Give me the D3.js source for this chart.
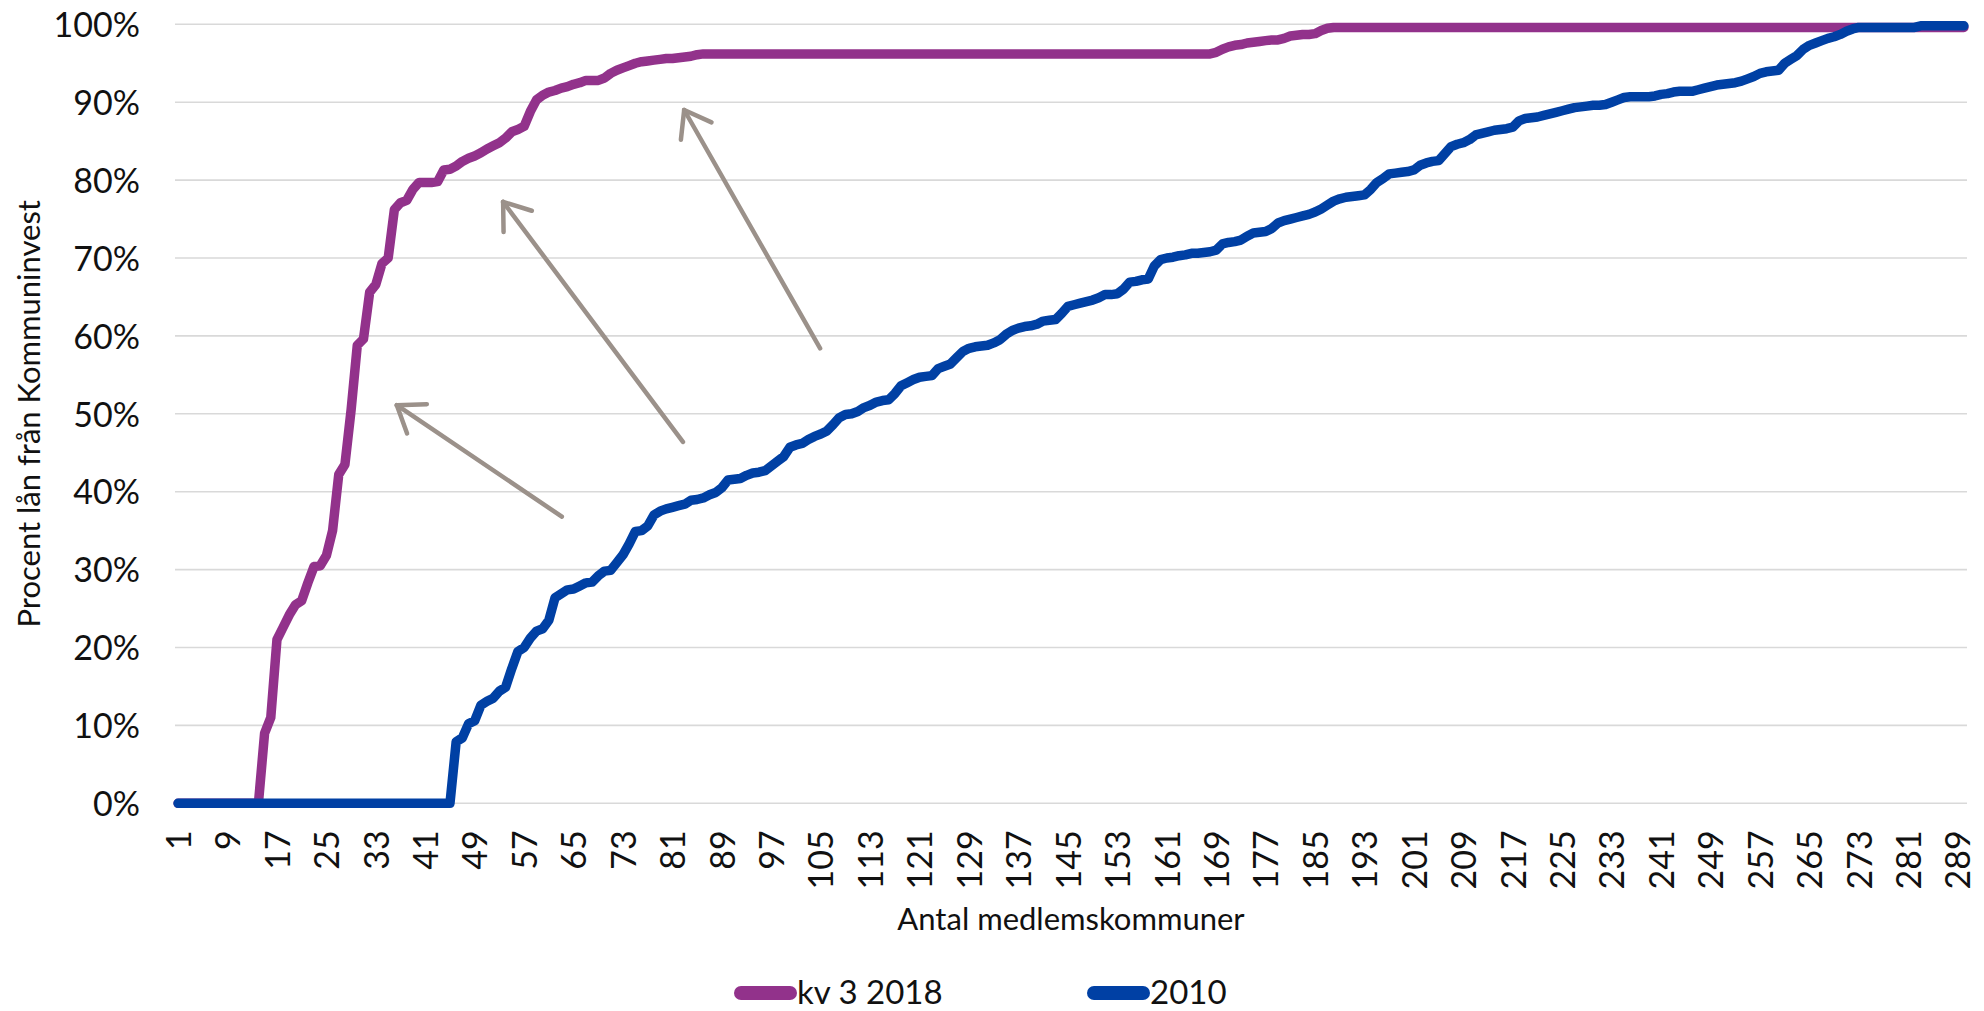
<!DOCTYPE html>
<html><head><meta charset="utf-8">
<script src="https://cdn.jsdelivr.net/npm/d3@7"></script>
<style>
html,body{margin:0;padding:0;background:#fff;}
svg{display:block;}
text{font-family:Lato, "Open Sans", sans-serif; fill:#111;}
</style>
</head><body>
<svg id="chart" width="1984" height="1011"></svg>
<script>
// ---- data (percent of loans from Kommuninvest, cumulative over member municipalities) ----
const seriesNames = ["kv 3 2018", "2010"];

const kv2018 = [
0,0,0,0,0,0,0,0,0,0,
0,0,0,0,9.0,11.0,21.0,22.6,24.2,25.5,
26.0,28.3,30.4,30.5,31.8,35.0,42.2,43.5,50.5,58.8,
59.6,65.6,66.6,69.3,70.0,76.2,77.1,77.4,78.8,79.7,
79.7,79.7,79.8,81.3,81.4,81.8,82.4,82.8,83.1,83.5,
84.0,84.4,84.8,85.4,86.2,86.5,86.9,88.8,90.3,90.9,
91.3,91.5,91.8,92.0,92.3,92.5,92.8,92.8,92.8,93.1,
93.7,94.1,94.4,94.7,95.0,95.2,95.3,95.4,95.5,95.6,
95.6,95.7,95.8,95.9,96.1,96.2,96.2,96.2,96.2,96.2,
96.2,96.2,96.2,96.2,96.2,96.2,96.2,96.2,96.2,96.2,
96.2,96.2,96.2,96.2,96.2,96.2,96.2,96.2,96.2,96.2,
96.2,96.2,96.2,96.2,96.2,96.2,96.2,96.2,96.2,96.2,
96.2,96.2,96.2,96.2,96.2,96.2,96.2,96.2,96.2,96.2,
96.2,96.2,96.2,96.2,96.2,96.2,96.2,96.2,96.2,96.2,
96.2,96.2,96.2,96.2,96.2,96.2,96.2,96.2,96.2,96.2,
96.2,96.2,96.2,96.2,96.2,96.2,96.2,96.2,96.2,96.2,
96.2,96.2,96.2,96.2,96.2,96.2,96.2,96.2,96.4,96.8,
97.1,97.3,97.4,97.6,97.7,97.8,97.9,98.0,98.0,98.2,
98.5,98.6,98.7,98.7,98.8,99.2,99.5,99.6,99.6,99.6,
99.6,99.6,99.6,99.6,99.6,99.6,99.6,99.6,99.6,99.6,
99.6,99.6,99.6,99.6,99.6,99.6,99.6,99.6,99.6,99.6,
99.6,99.6,99.6,99.6,99.6,99.6,99.6,99.6,99.6,99.6,
99.6,99.6,99.6,99.6,99.6,99.6,99.6,99.6,99.6,99.6,
99.6,99.6,99.6,99.6,99.6,99.6,99.6,99.6,99.6,99.6,
99.6,99.6,99.6,99.6,99.6,99.6,99.6,99.6,99.6,99.6,
99.6,99.6,99.6,99.6,99.6,99.6,99.6,99.6,99.6,99.6,
99.6,99.6,99.6,99.6,99.6,99.6,99.6,99.6,99.6,99.6,
99.6,99.6,99.6,99.6,99.6,99.6,99.6,99.6,99.6,99.6,
99.6,99.6,99.6,99.6,99.6,99.6,99.6,99.6,99.6,99.6
];

const y2010 = [
0,0,0,0,0,0,0,0,0,0,
0,0,0,0,0,0,0,0,0,0,
0,0,0,0,0,0,0,0,0,0,
0,0,0,0,0,0,0,0,0,0,
0,0,0,0,0,7.9,8.4,10.2,10.6,12.6,
13.1,13.5,14.4,14.9,17.3,19.5,20.0,21.2,22.1,22.4,
23.5,26.4,26.9,27.4,27.5,27.9,28.3,28.4,29.2,29.8,
29.9,30.9,31.9,33.3,34.9,35.0,35.6,37.0,37.5,37.8,
38.0,38.2,38.4,38.9,39.0,39.2,39.6,39.9,40.5,41.5,
41.6,41.7,42.1,42.4,42.5,42.7,43.3,43.9,44.5,45.7,
46.0,46.2,46.7,47.1,47.4,47.8,48.6,49.5,49.9,50.0,
50.3,50.8,51.1,51.5,51.7,51.8,52.6,53.6,54.0,54.4,
54.7,54.8,54.9,55.8,56.1,56.4,57.2,58.0,58.4,58.6,
58.7,58.8,59.1,59.5,60.2,60.7,61.0,61.2,61.3,61.5,
61.9,62.0,62.1,62.9,63.8,64.0,64.2,64.4,64.6,64.9,
65.3,65.3,65.4,66.0,66.9,67.0,67.2,67.3,69.0,69.8,
70.0,70.1,70.3,70.4,70.6,70.6,70.7,70.8,71.0,71.8,
72.0,72.1,72.3,72.8,73.2,73.3,73.4,73.8,74.5,74.8,
75.0,75.2,75.4,75.6,75.9,76.3,76.8,77.3,77.6,77.8,
77.9,78.0,78.1,78.8,79.7,80.2,80.8,80.9,81.0,81.1,
81.3,81.9,82.2,82.4,82.5,83.4,84.3,84.6,84.8,85.2,
85.8,86.0,86.2,86.4,86.5,86.6,86.8,87.6,87.9,88.0,
88.1,88.3,88.5,88.7,88.9,89.1,89.3,89.4,89.5,89.6,
89.6,89.7,90.0,90.3,90.6,90.7,90.7,90.7,90.7,90.8,
91.0,91.1,91.3,91.4,91.4,91.4,91.6,91.8,92.0,92.2,
92.3,92.4,92.5,92.7,93.0,93.3,93.7,93.9,94.0,94.1,
95.0,95.5,96.0,96.8,97.3,97.6,97.9,98.2,98.4,98.7,
99.1,99.4,99.6,99.6,99.6,99.6,99.6,99.6,99.6,99.6,
99.6,99.6,99.8,99.8,99.8,99.8,99.8,99.8,99.8,99.8
];

const categories = kv2018.map((_, k) => k + 1);
const xTickLabels = [1,9,17,25,33,41,49,57,65,73,81,89,97,105,113,121,129,137,145,153,161,169,177,185,193,201,209,217,225,233,241,249,257,265,273,281,289];
const yTicks = [0,10,20,30,40,50,60,70,80,90,100];

// annotation arrows in data units: [category, percent] from tail to head
const arrowTails = [[63.1,36.8],[82.7,46.4],[104.9,58.4]];
const arrowHeads = [[36.4,51.1],[53.6,77.2],[82.9,89.0]];

// ---- layout ----
const plot = {left:175, right:1967, top:24.3, bottom:803.3};
const colors = ["#92328b", "#0040a4"];

const svg = d3.select("#chart");

const x = d3.scalePoint().domain(categories).range([plot.left, plot.right]).padding(0.5);
const xc = d3.scaleLinear().domain([0.5, categories.length + 0.5]).range([plot.left, plot.right]);
const y = d3.scaleLinear().domain([0, 100]).range([plot.bottom, plot.top]);

// gridlines
svg.append("g").selectAll("line").data(yTicks).join("line")
  .attr("x1", plot.left).attr("x2", plot.right)
  .attr("y1", d => y(d)).attr("y2", d => y(d))
  .attr("stroke", "#d9d9d9").attr("stroke-width", 1.6);

// y axis labels
const yAxis = d3.axisLeft(y).tickValues(yTicks).tickSize(0).tickPadding(35).tickFormat(d => d + "%");
const gy = svg.append("g").attr("transform", `translate(${plot.left},0)`).call(yAxis);
gy.select(".domain").remove();
gy.selectAll("text").attr("font-size", 34).attr("font-family", "Lato, sans-serif").attr("fill", "#111").attr("dy", "0.36em");

// x axis labels (rotated)
const xAxis = d3.axisBottom(x).tickValues(xTickLabels).tickSize(0).tickPadding(0);
const gx = svg.append("g").attr("transform", `translate(0,${plot.bottom})`).call(xAxis);
gx.select(".domain").remove();
gx.selectAll(".tick text")
  .attr("font-size", 34).attr("font-family", "Lato, sans-serif").attr("fill", "#111")
  .attr("text-anchor", "end")
  .attr("transform", "translate(0,27) rotate(-90)")
  .attr("x", 0).attr("y", 0).attr("dy", "0.36em");

// axis titles
svg.append("text").attr("x", (plot.left + plot.right) / 2).attr("y", 930)
  .attr("text-anchor", "middle").attr("font-size", 31).text("Antal medlemskommuner");
svg.append("text").attr("transform", `translate(40,${(plot.top + plot.bottom) / 2}) rotate(-90)`)
  .attr("text-anchor", "middle").attr("font-size", 31).text("Procent lån från Kommuninvest");

// lines
const line = d3.line().x((d, k) => x(categories[k])).y(d => y(d));
[kv2018, y2010].forEach((s, k) => {
  svg.append("path").datum(s).attr("d", line)
    .attr("fill", "none").attr("stroke", colors[k]).attr("stroke-width", 9.5)
    .attr("stroke-linejoin", "round").attr("stroke-linecap", "round");
});

// arrows
const arrowColor = "#9b918a";
const ag = svg.append("g").attr("stroke", arrowColor).attr("stroke-width", 4.5).attr("stroke-linecap", "round").attr("fill", "none");
arrowTails.forEach((t, k) => {
  const h = arrowHeads[k];
  const tx = xc(t[0]), ty = y(t[1]), hx = xc(h[0]), hy = y(h[1]);
  ag.append("line").attr("x1", tx).attr("y1", ty).attr("x2", hx).attr("y2", hy);
  const ang = Math.atan2(ty - hy, tx - hx);
  const L = 30, a = 36 * Math.PI / 180;
  [ang - a, ang + a].forEach(b => {
    ag.append("line").attr("x1", hx).attr("y1", hy)
      .attr("x2", hx + L * Math.cos(b)).attr("y2", hy + L * Math.sin(b));
  });
});

// legend
const legendItems = [{x:741, name:seriesNames[0], c:colors[0]}, {x:1094, name:seriesNames[1], c:colors[1]}];
const lg = svg.append("g");
legendItems.forEach(it => {
  lg.append("line").attr("x1", it.x).attr("x2", it.x + 49).attr("y1", 993).attr("y2", 993)
    .attr("stroke", it.c).attr("stroke-width", 14).attr("stroke-linecap", "round");
  lg.append("text").attr("x", it.x + 56).attr("y", 1004).attr("font-size", 33).text(it.name);
});
</script>
</body></html>
